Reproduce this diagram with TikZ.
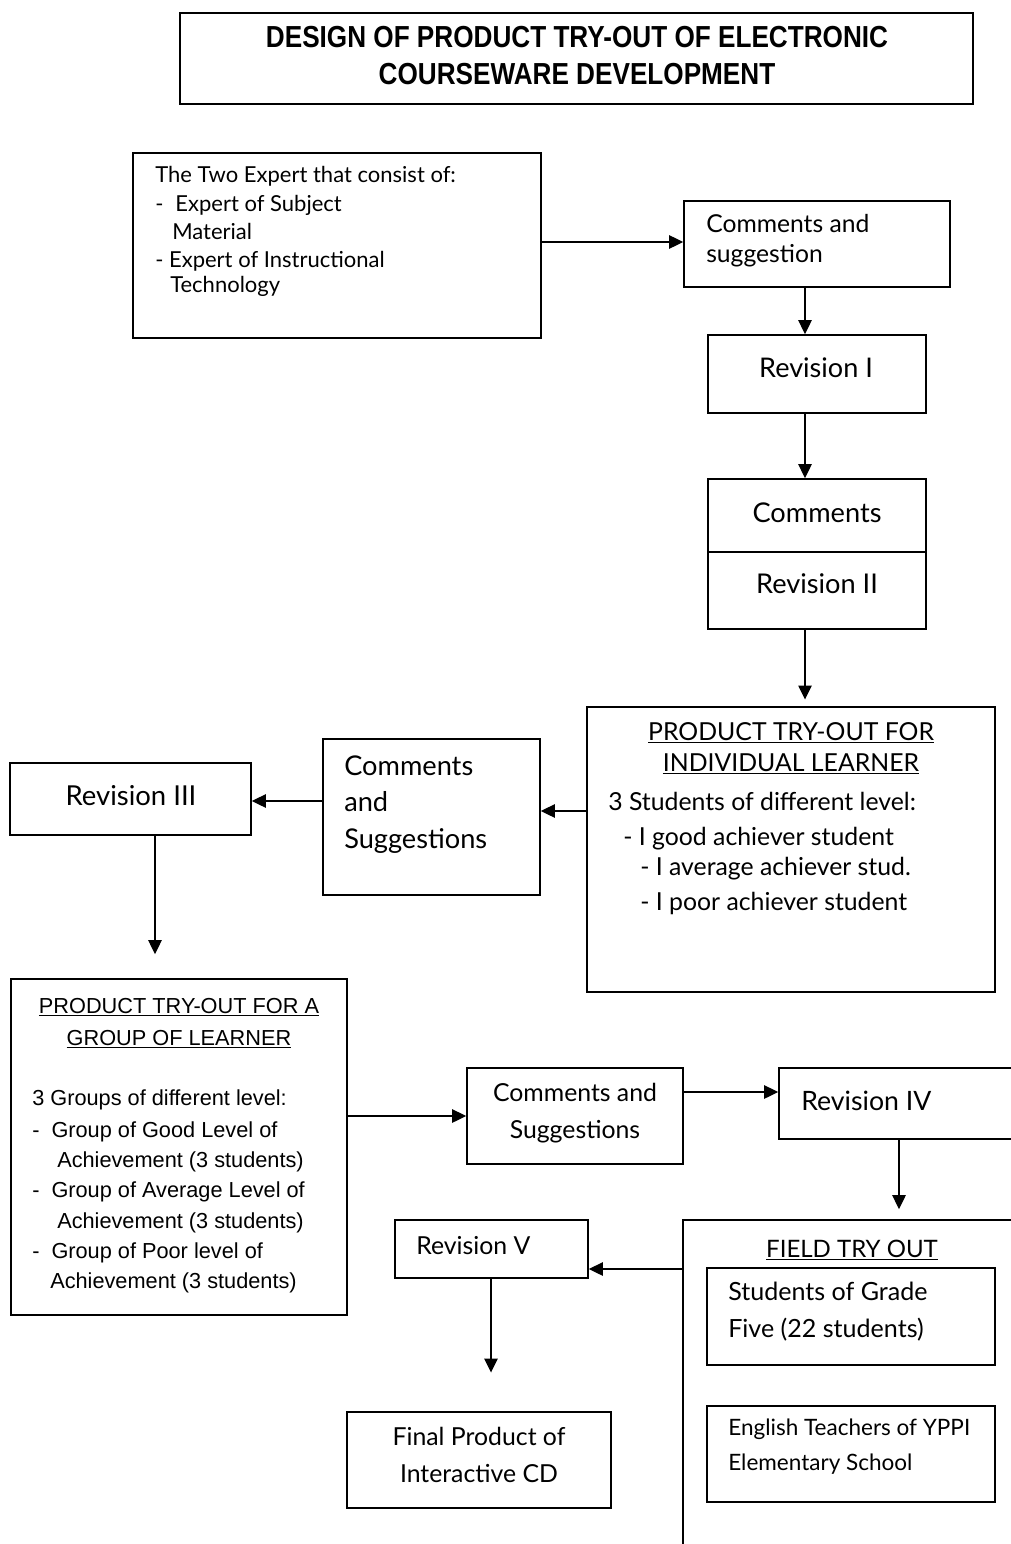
\documentclass[tikz,border=0pt]{standalone}
\usepackage{fontspec}
\setmainfont{Lato}
\newfontfamily\arialfont{Liberation Sans}
\newfontfamily\headfont[FakeStretch=0.86]{Liberation Sans}
\usetikzlibrary{arrows.meta,fit}
\newcommand\setfs[1]{\fontsize{#1}{#1}\selectfont}
\begin{document}
\begin{tikzpicture}[x=0.75pt,y=-0.75pt,
  box/.style={draw, line width=1.2pt, inner sep=0pt},
  arr/.style={-{Triangle[length=10.5pt,width=10pt]}, line width=1.1pt},
  lt/.style={inner sep=0pt, anchor=base west},
  ct/.style={inner sep=0pt, anchor=base},
  gill/.style={font=\setfs{#1}},
  arial/.style={font=\arialfont\setfs{#1}}]
\useasboundingbox (0,0) rectangle (1010,1544);
\fill[white] (0,0) rectangle (1010,1544);

% ---- boxes ----
\node[box, fit={(180,13) (973,104)}] (title) {};
\node[box, fit={(133,153) (541,338)}] (expert) {};
\node[box, fit={(684,201) (950,287)}] (cmt1) {};
\node[box, fit={(708,335) (926,413)}] (rev1) {};
\node[box, fit={(708,479) (926,629)}] (comrev) {};
\node[box, fit={(587,707) (995,992)}] (indiv) {};
\node[box, fit={(323,739) (540,895)}] (cmt2) {};
\node[box, fit={(10,763) (251,835)}] (rev3) {};
\node[box, fit={(11,979) (347,1315)}] (group) {};
\node[box, fit={(467,1068) (683,1164)}] (cmt3) {};
\node[box, fit={(779,1068) (1040,1139)}] (rev4) {};
\node[box, fit={(683,1220) (1040,1580)}] (field) {};
\node[box, fit={(395,1220) (588,1278)}] (rev5) {};
\node[box, fit={(347,1412) (611,1508)}] (final) {};
\node[box, fit={(707,1268) (995,1365)}] (students) {};
\node[box, fit={(707,1406) (995,1502)}] (teachers) {};

% divider between "Comments" and "Revision II"
\coordinate (div) at (0,552);
\draw[line width=1.2pt] (comrev.west |- div) -- (comrev.east |- div);

% ---- texts ----
\node[ct, font=\headfont\bfseries\setfs{22.8pt}] (ti1) at (577,48) {DESIGN OF PRODUCT TRY-OUT OF ELECTRONIC};
\node[ct, font=\headfont\bfseries\setfs{22.8pt}] (ti2) at (577,85) {COURSEWARE DEVELOPMENT};

\node[lt, gill=16.5pt] (ex1) at (155,183) {The Two Expert that consist of:};
\node[lt, gill=16.5pt] (ex2) at (155,212) {-\hspace{9pt}Expert of Subject};
\node[lt, gill=16.5pt] (ex3) at (172,240) {Material};
\node[lt, gill=16.5pt] (ex4) at (155,268) {- Expert of Instructional};
\node[lt, gill=16.5pt] (ex5) at (170,293) {Technology};

\node[lt, gill=18.5pt] (c1a) at (706,233) {Comments and};
\node[lt, gill=18.5pt] (c1b) at (706,263) {suggestion};

\node[ct, gill=20.3pt] (r1) at (816,377) {Revision I};
\node[ct, gill=20.4pt] (cr1) at (817,522) {Comments};
\node[ct, gill=20.4pt] (cr2) at (817,593) {Revision II};

\node[ct, gill=18.6pt] (in1) at (791,740) {\underline{PRODUCT TRY-OUT FOR}};
\node[ct, gill=18.6pt] (in2) at (791,771) {\underline{INDIVIDUAL LEARNER}};
\node[lt, gill=18.6pt] (in3) at (608,810) {3 Students of different level:};
\node[lt, gill=18.6pt] (in4) at (623,845) {- I good achiever student};
\node[lt, gill=18.6pt] (in5) at (640,875) {- I average achiever stud.};
\node[lt, gill=18.6pt] (in6) at (640,910) {- I poor achiever student};

\node[lt, gill=20.4pt] (c2a) at (344,775) {Comments};
\node[lt, gill=20.4pt] (c2b) at (344,811) {and};
\node[lt, gill=20.4pt] (c2c) at (344,848) {Suggestions};

\node[ct, gill=20.6pt] (r3) at (131,805) {Revision III};

\node[ct, arial=16.3pt] (g1) at (179,1013) {\underline{PRODUCT TRY-OUT FOR A}};
\node[ct, arial=16.3pt] (g2) at (179,1045) {\underline{GROUP OF LEARNER}};
\node[lt, arial=16.3pt] (g3) at (32,1105) {3 Groups of different level:};
\node[lt, arial=16.3pt] (g4) at (32,1137) {-\hspace{9pt}Group of Good Level of};
\node[lt, arial=16.3pt] (g5) at (57,1167) {Achievement (3 students)};
\node[lt, arial=16.3pt] (g6) at (32,1197) {-\hspace{9pt}Group of Average Level of};
\node[lt, arial=16.3pt] (g7) at (57,1228) {Achievement (3 students)};
\node[lt, arial=16.3pt] (g8) at (32,1258) {-\hspace{9pt}Group of Poor level of};
\node[lt, arial=16.3pt] (g9) at (50,1288) {Achievement (3 students)};

\node[ct, gill=18.6pt] (c3a) at (575,1101) {Comments and};
\node[ct, gill=18.6pt] (c3b) at (575,1138) {Suggestions};

\node[lt, gill=20pt] (r4) at (801,1110) {Revision IV};
\node[lt, gill=18.6pt] (r5) at (416,1254) {Revision V};

\node[ct, gill=18.6pt] (fp1) at (479,1445) {Final Product of};
\node[ct, gill=18.6pt] (fp2) at (479,1482) {Interactive CD};

\node[ct, gill=18pt] (ft) at (852,1257) {\underline{FIELD TRY OUT}};
\node[lt, gill=18.8pt] (st1) at (728,1300) {Students of Grade};
\node[lt, gill=18.8pt] (st2) at (728,1337) {Five (22 students)};
\node[lt, gill=16.9pt] (et1) at (728,1435) {English Teachers of YPPI};
\node[lt, gill=16.9pt] (et2) at (728,1470) {Elementary School};

% ---- connector lanes ----
\coordinate (ya) at (0,242);
\coordinate (xa) at (805,0);
\coordinate (yb) at (0,811);
\coordinate (yc) at (0,801);
\coordinate (xc) at (155,0);
\coordinate (yd) at (0,1116);
\coordinate (ye) at (0,1092);
\coordinate (xf) at (899,0);
\coordinate (yg) at (0,1269);
\coordinate (xh) at (491,0);

% ---- connectors ----
\draw[arr] (expert.east |- ya) -- (cmt1.west |- ya);
\draw[arr] (cmt1.south -| xa) -- (rev1.north -| xa);
\draw[arr] (rev1.south -| xa) -- (comrev.north -| xa);
\draw[arr, shorten >=5pt] (comrev.south -| xa) -- (indiv.north -| xa);
\draw[arr] (indiv.west |- yb) -- (cmt2.east |- yb);
\draw[arr] (cmt2.west |- yc) -- (rev3.east |- yc);
\draw[arr, shorten >=18pt] (rev3.south -| xc) -- (group.north -| xc);
\draw[arr] (group.east |- yd) -- (cmt3.west |- yd);
\draw[arr] (cmt3.east |- ye) -- (rev4.west |- ye);
\draw[arr, shorten >=7.5pt] (rev4.south -| xf) -- (field.north -| xf);
\draw[arr] (field.west |- yg) -- (rev5.east |- yg);
\draw[arr, shorten >=29pt] (rev5.south -| xh) -- (final.north -| xh);
\end{tikzpicture}
\end{document}
